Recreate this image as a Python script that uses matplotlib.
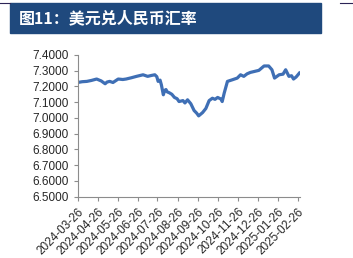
import pandas as pd
import matplotlib.pyplot as plt
from matplotlib.patches import Rectangle

dates = ['2024-03-26', '2024-04-02', '2024-04-09', '2024-04-16', '2024-04-24', '2024-05-01',
         '2024-05-07', '2024-05-10', '2024-05-14', '2024-05-19', '2024-05-27', '2024-06-03',
         '2024-06-08', '2024-06-16', '2024-06-24', '2024-07-04', '2024-07-11', '2024-07-17',
         '2024-07-22', '2024-07-25', '2024-07-27', '2024-07-30', '2024-08-01', '2024-08-04',
         '2024-08-06', '2024-08-08', '2024-08-10', '2024-08-13', '2024-08-17', '2024-08-21',
         '2024-08-25', '2024-08-28', '2024-09-03', '2024-09-06', '2024-09-10', '2024-09-15',
         '2024-09-20', '2024-09-24', '2024-09-27', '2024-10-03', '2024-10-08', '2024-10-13',
         '2024-10-18', '2024-10-22', '2024-10-26', '2024-10-31', '2024-11-02', '2024-11-05',
         '2024-11-10', '2024-11-18', '2024-11-25', '2024-11-30', '2024-12-05', '2024-12-10',
         '2024-12-15', '2024-12-28', '2025-01-05', '2025-01-12', '2025-01-17', '2025-01-21',
         '2025-01-28', '2025-02-03', '2025-02-07', '2025-02-12', '2025-02-16', '2025-02-19',
         '2025-02-23', '2025-02-28']
usdcny = [7.225, 7.230, 7.232, 7.238, 7.247, 7.235,
          7.217, 7.228, 7.232, 7.225, 7.247, 7.244,
          7.247, 7.255, 7.264, 7.274, 7.264, 7.270,
          7.274, 7.262, 7.232, 7.240, 7.210, 7.147,
          7.175, 7.180, 7.165, 7.160, 7.150, 7.130,
          7.122, 7.104, 7.110, 7.095, 7.115, 7.090,
          7.047, 7.030, 7.013, 7.034, 7.060, 7.110,
          7.125, 7.118, 7.130, 7.120, 7.104, 7.157,
          7.232, 7.243, 7.253, 7.274, 7.264, 7.280,
          7.289, 7.302, 7.330, 7.330, 7.306, 7.253,
          7.274, 7.278, 7.306, 7.264, 7.268, 7.247,
          7.260, 7.285]
tick_dates = ['2024-03-26', '2024-04-26', '2024-05-26', '2024-06-26', '2024-07-26', '2024-08-26',
              '2024-09-26', '2024-10-26', '2024-11-26', '2024-12-26', '2025-01-26', '2025-02-26']

plt.rcParams['font.family'] = ['Liberation Sans', 'DejaVu Sans']

fig = plt.figure(figsize=(3.53, 2.58), dpi=100)
ax = fig.add_axes([0.220, 0.238, 0.630, 0.549])

x = pd.to_datetime(dates)
ax.plot(x, usdcny, color='#3F6FB5', linewidth=2.3, solid_joinstyle='round')

ax.set_ylim(6.5, 7.4)
ax.set_yticks([6.5 + 0.1 * i for i in range(10)])
ax.yaxis.set_major_formatter(plt.FormatStrFormatter('%.4f'))
ticks = pd.to_datetime(tick_dates)
ax.set_xticks(ticks)
ax.set_xticklabels(tick_dates, rotation=45, ha='right', rotation_mode='anchor')
ax.set_xlim(ticks[0], pd.Timestamp('2025-03-01'))

for s in ['top', 'right']:
    ax.spines[s].set_visible(False)
for s in ['left', 'bottom']:
    ax.spines[s].set_color('#8C8C8C')
    ax.spines[s].set_linewidth(0.8)
ax.tick_params(colors='#8C8C8C', labelcolor='#262626', labelsize=8.5, length=3, width=0.8)

# title bar
fig.patches.append(Rectangle((10 / 353, 1 - 33 / 258), 311 / 353, 30 / 258,
                             transform=fig.transFigure, color='#1F497D', zorder=0))
fig.text(19 / 353, 1 - 18 / 258, '图11：美元兑人民币汇率', color='white', fontsize=11.5,
         fontweight='bold', family=['Noto Sans CJK SC', 'DejaVu Sans'], va='center', ha='left')
fig.add_artist(plt.Line2D([0, 10 / 353], [1 - 3 / 258] * 2, color='#2B2456', lw=0.8))
fig.add_artist(plt.Line2D([340 / 353, 1], [1 - 3 / 258] * 2, color='#2B2456', lw=0.8))

fig.savefig('out.png', dpi=100)
